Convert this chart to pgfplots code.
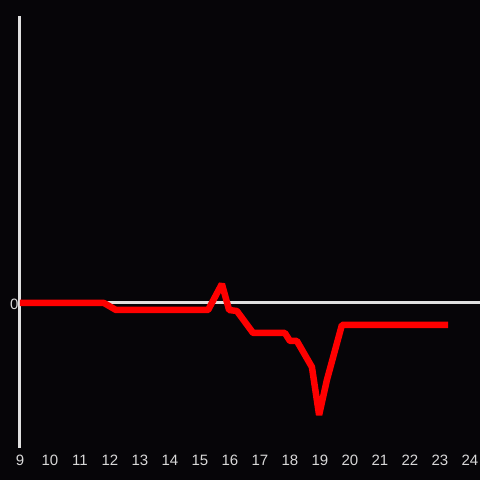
\documentclass[border=0pt]{standalone}
\usepackage{pgfplots}
\pgfplotsset{compat=1.18}
\usepackage{fontspec}
\setmainfont{Liberation Sans}
\definecolor{bg}{HTML}{060508}
\definecolor{axgray}{HTML}{E0E0E0}
\definecolor{lblgray}{HTML}{D8D8D8}
\begin{document}
\begin{tikzpicture}
\fill[bg] (-20pt,-32pt) rectangle (460pt,448pt);
\useasboundingbox (-20pt,-32pt) rectangle (460pt,448pt);
\begin{axis}[
  at={(0,0)}, anchor=south west,
  scale only axis,
  width=460pt, height=432pt,
  xmin=9, xmax=24.3333,
  ymin=-145, ymax=287,
  axis line style={draw=none},
  xtick={9,10,...,24},
  ytick=\empty,
  extra y ticks={0},
  extra y tick style={grid=major, grid style={axgray, line width=3pt}},
  extra x ticks={9},
  extra x tick labels={},
  extra x tick style={grid=major, grid style={axgray, line width=3pt}},
  tick style={draw=none},
  ticklabel style={font=\fontsize{15}{17}\selectfont, text=lblgray},
  xticklabel style={anchor=base, yshift=-17pt},
  yticklabel style={xshift=2pt, yshift=-1pt},
  /pgf/number format/assume math mode=true,
  clip=false,
]
\addplot[red, line width=6.5pt, line join=bevel] coordinates {
  (9,0) (11.8,0) (12.2,-7) (15.27,-7) (15.73,19) (15.97,-7) (16.23,-8)
  (16.77,-30) (17.83,-30) (18.0,-38) (18.23,-38) (18.73,-64) (18.97,-112)
  (19.23,-77) (19.73,-22) (23.27,-22)
};
\end{axis}
\end{tikzpicture}
\end{document}
